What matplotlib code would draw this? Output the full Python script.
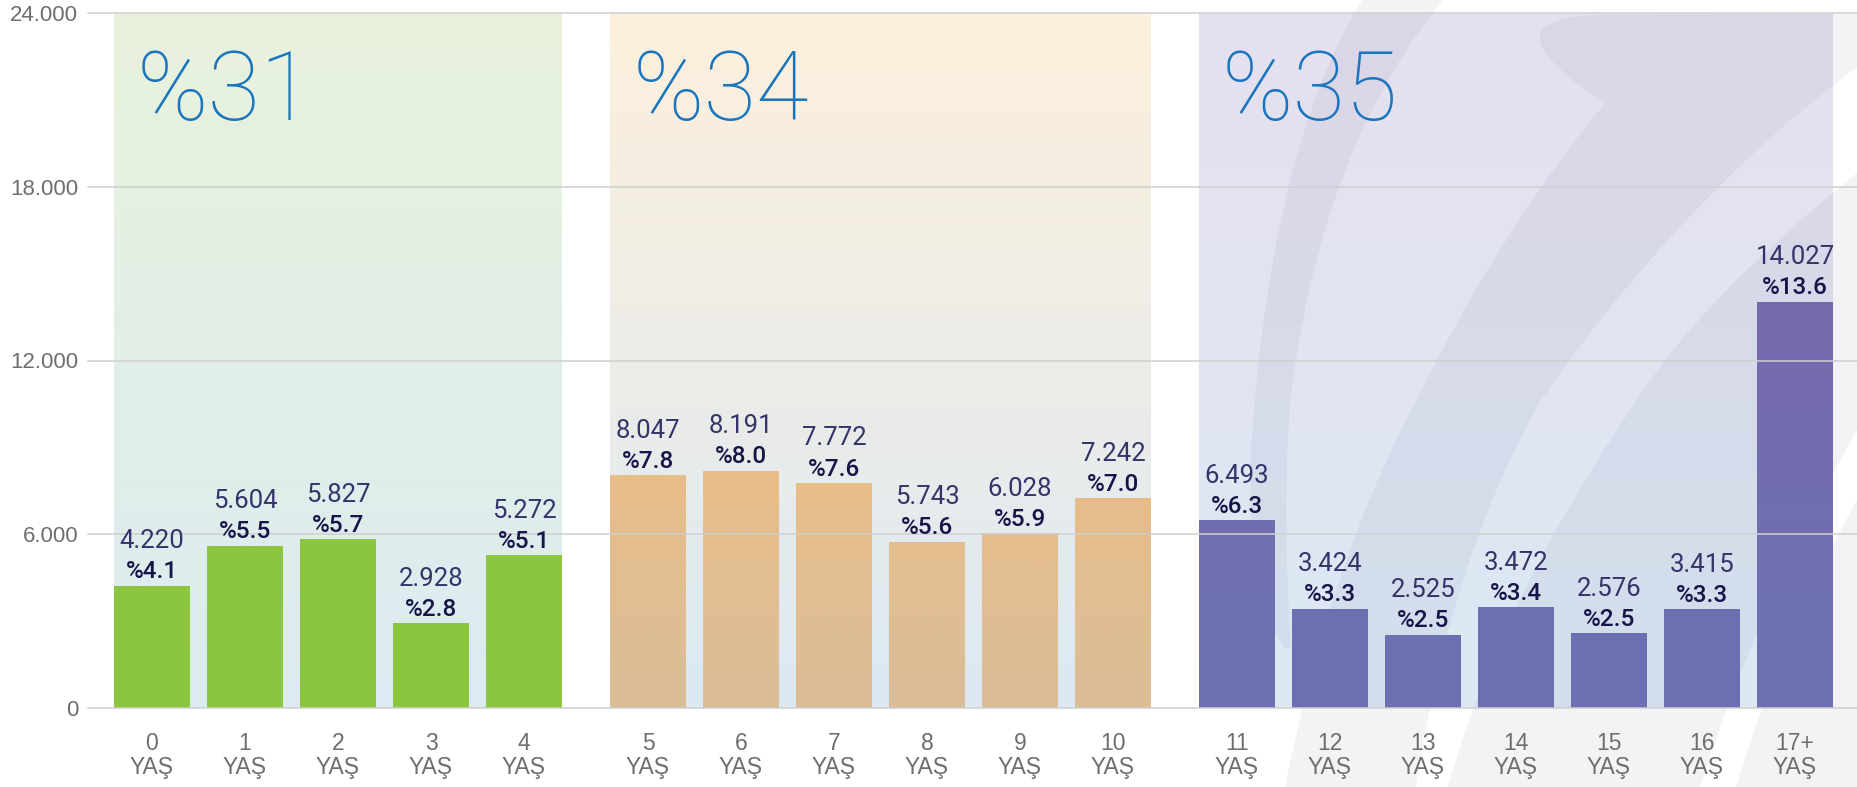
import numpy as np
import matplotlib.pyplot as plt
from matplotlib.path import Path
from matplotlib.patches import PathPatch
from matplotlib.colors import to_rgb

# Veriler
ages = ['0', '1', '2', '3', '4', '5', '6', '7', '8', '9', '10',
        '11', '12', '13', '14', '15', '16', '17+']
values = [4220, 5604, 5827, 2928, 5272, 8047, 8191, 7772, 5743, 6028, 7242,
          6493, 3424, 2525, 3472, 2576, 3415, 14027]
shares = [4.1, 5.5, 5.7, 2.8, 5.1, 7.8, 8.0, 7.6, 5.6, 5.9, 7.0,
          6.3, 3.3, 2.5, 3.4, 2.5, 3.3, 13.6]
groups = [0] * 5 + [1] * 6 + [2] * 7
group_labels = ['%31', '%34', '%35']

# Renkler
region_top = ['#e8f2dc', '#fdf0dc', '#e6e0ef']
region_bot = ['#dcebf2', '#dce9f3', '#dce9f4']
bar_top = ['#8cc63f', '#e8bd89', '#766aac']
bar_bot = ['#8cc63f', '#dbbd99', '#6b71b4']
W, H = 1857, 787

fig = plt.figure(figsize=(W / 100, H / 100), dpi=100)
ax = fig.add_axes([88 / W, 79 / H, 1769 / W, 695 / H])
ax.set_facecolor('none')

gap = 0.333
width = 0.817
pos = np.array([i + g * gap for i, g in enumerate(groups)])
ymax = 24000


def vgrad(x0, x1, y0, y1, ctop, cbot, z, clip=None):
    t = np.linspace(0, 1, 256)[:, None]
    a, b = np.array(to_rgb(ctop)), np.array(to_rgb(cbot))
    img = (a * (1 - t) + b * t)[:, None, :]
    im = ax.imshow(img, extent=(x0, x1, y0, y1), aspect='auto',
                   interpolation='bilinear', zorder=z, origin='upper')
    if clip is not None:
        im.set_clip_path(clip)
    return im


# Arka plan bölgeleri
for g in range(3):
    idx = [i for i in range(len(groups)) if groups[i] == g]
    x0 = pos[idx[0]] - width / 2
    x1 = pos[idx[-1]] + width / 2
    vgrad(x0, x1, 0, ymax, region_top[g], region_bot[g], 0)
    ax.text(x0 + 0.24, 20300, group_labels[g], fontsize=69, color='#1a75bf',
            family='Roboto', fontweight='light', va='baseline', ha='left',
            zorder=5)


# Sağdaki silik logo deseni (piksel koordinatları)
def fig_path(pts, codes):
    v = [(x / W, 1 - y / H) for x, y in pts]
    return Path(v, codes)


M, L, C3, CL = Path.MOVETO, Path.LINETO, Path.CURVE3, Path.CLOSEPOLY
shapes = [
    ([(1362, 0), (1270, 150), (1251, 452), (1245, 600), (1285, 648),
      (1291, 648), (1282, 520), (1290, 402), (1320, 150), (1443, 0), (1362, 0)],
     [M, C3, C3, C3, C3, L, C3, C3, C3, C3, CL]),
    ([(1541, 30), (1555, 16), (1600, 15), (1857, 14), (1857, 67),
      (1680, 200), (1541, 400), (1450, 560), (1416, 787), (1285, 787),
      (1330, 560), (1417, 400), (1500, 230), (1605, 103), (1530, 55),
      (1541, 30), (1541, 30)],
     [M, C3, C3, L, L, C3, C3, C3, C3, L, C3, C3, C3, C3, C3, C3, CL]),
    ([(1857, 173), (1700, 300), (1637, 400), (1500, 600), (1448, 787),
      (1700, 787), (1760, 600), (1857, 430), (1857, 173)],
     [M, C3, C3, C3, C3, L, C3, C3, CL]),
    ([(1857, 500), (1780, 640), (1736, 787), (1857, 787), (1857, 500)],
     [M, C3, C3, L, CL]),
]
for pts, codes in shapes:
    ax.add_patch(PathPatch(fig_path(pts, codes), transform=fig.transFigure,
                           facecolor='#3c4270', edgecolor='none', alpha=0.06,
                           zorder=0.5, clip_on=False))

# Çubuklar
bars = ax.bar(pos, values, width=width, color=[bar_top[g] for g in groups],
              zorder=2, linewidth=0)
for b, g in zip(bars, groups):
    gmax = max(v for v, gg in zip(values, groups) if gg == g)
    vgrad(b.get_x(), b.get_x() + width, 0, gmax, bar_top[g], bar_bot[g], 2.1,
          clip=b)

# Etiketler
for x, v, s in zip(pos, values, shares):
    ax.annotate(f'{v:,}'.replace(',', '.'), (x, v), xytext=(0, 32),
                textcoords='offset points', ha='center', va='center',
                fontsize=18.5, family='Roboto', fontweight='normal',
                color='#34346a', zorder=6)
    ax.annotate(f'%{s:.1f}', (x, v), xytext=(0, 10),
                textcoords='offset points', ha='center', va='center',
                fontsize=17.5, family='Roboto', fontweight='medium',
                color='#15154a', zorder=6)

ax.set_xlim((88 - 152) / 93, (W - 152) / 93)
ax.set_ylim(0, ymax)
ax.set_yticks([0, 6000, 12000, 18000, 24000],
              ['0', '6.000', '12.000', '18.000', '24.000'])
ax.set_xticks(pos, [f'{a}\nYAŞ' for a in ages])
for lab in ax.get_xticklabels() + ax.get_yticklabels():
    lab.set_family('Liberation Sans')
    lab.set_color('#6e6e6e')
for lab in ax.get_xticklabels():
    lab.set_fontsize(16.5)
    lab.set_linespacing(1.1)
for lab in ax.get_yticklabels():
    lab.set_fontsize(16)
ax.tick_params(axis='x', length=0, pad=17)
ax.tick_params(axis='y', length=0, pad=7)
ax.yaxis.grid(True, color='#cfcfcf', linewidth=1.1, zorder=1)
ax.set_axisbelow(False)
for gl in ax.get_ygridlines():
    gl.set_zorder(1)
    gl.set_clip_on(False)
for sp in ax.spines.values():
    sp.set_visible(False)

fig.savefig('out.png', dpi=100, facecolor='white')
